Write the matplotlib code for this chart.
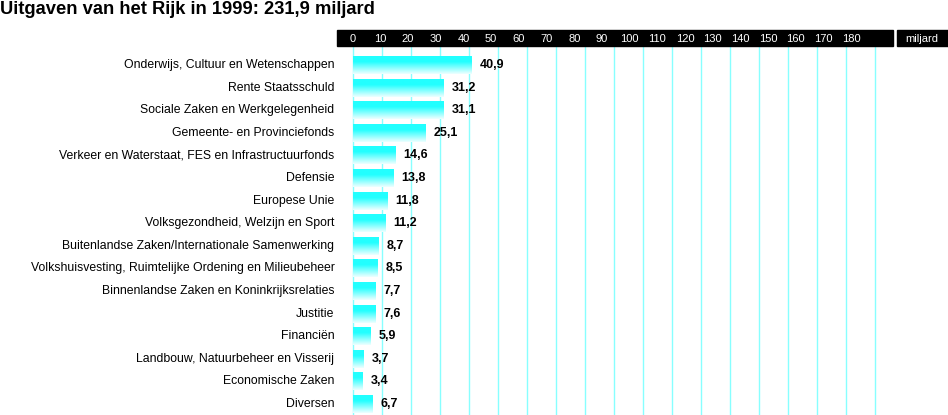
import matplotlib.pyplot as plt
import numpy as np
from matplotlib.colors import LinearSegmentedColormap
from matplotlib.patches import Rectangle

plt.rcParams['font.family'] = ['Liberation Sans', 'DejaVu Sans']

# Rijksbegroting 1999, bedragen in miljard gulden
posten = ["Onderwijs, Cultuur en Wetenschappen", "Rente Staatsschuld",
          "Sociale Zaken en Werkgelegenheid", "Gemeente- en Provinciefonds",
          "Verkeer en Waterstaat, FES en Infrastructuurfonds", "Defensie",
          "Europese Unie", "Volksgezondheid, Welzijn en Sport",
          "Buitenlandse Zaken/Internationale Samenwerking",
          "Volkshuisvesting, Ruimtelijke Ordening en Milieubeheer",
          "Binnenlandse Zaken en Koninkrijksrelaties", "Justitie", "Financiën",
          "Landbouw, Natuurbeheer en Visserij", "Economische Zaken", "Diversen"]
bedragen = [40.9, 31.2, 31.1, 25.1, 14.6, 13.8, 11.8, 11.2,
            8.7, 8.5, 7.7, 7.6, 5.9, 3.7, 3.4, 6.7]
ticks = list(range(0, 190, 10))

W, H = 948, 415
fig = plt.figure(figsize=(W / 100, H / 100), dpi=100)

# axes in pixel coords: 337..893 horizontally, 47..415 vertically
ax = fig.add_axes([337 / W, 0, (893 - 337) / W, (415 - 47) / H])
ax.set_xlim(-5.4, 186.3)
n = len(posten)
ax.set_ylim(n - 1 + 0.487, -0.796)
ax.axis('off')

for t in ticks:
    ax.axvline(t, color='#88ffff', lw=1, zorder=0)

cmap = LinearSegmentedColormap.from_list('cy', [(0, '#22ffff'), (0.35, '#22ffff'), (1, '#eeffff')])
grad = np.linspace(0, 1, 64).reshape(-1, 1)
y = np.arange(n)
bars = ax.barh(y, bedragen, height=0.8, color='none', zorder=2)
for b, v in zip(bars, bedragen):
    x0, y0, w, h = b.get_x(), b.get_y(), b.get_width(), b.get_height()
    im = ax.imshow(grad, extent=[x0, x0 + w, y0 + h, y0], aspect='auto',
                   cmap=cmap, zorder=2, interpolation='bilinear')
    im.set_clip_path(b)
    ax.text(v + 2.9, b.get_y() + h / 2, f"{v:.1f}".replace('.', ','),
            ha='left', va='center', fontsize=9, fontweight='bold')

for yi, p in zip(y, posten):
    ax.text(-6.3, yi, p, ha='right', va='center', fontsize=8.8, clip_on=False)

# header strip with tick labels
fig.patches.append(Rectangle((337 / W, 1 - 46 / H), (893 - 337) / W, 16 / H,
                             transform=fig.transFigure, color='black'))
fig.patches.append(Rectangle((897 / W, 1 - 46 / H), 51 / W, 16 / H,
                             transform=fig.transFigure, color='black'))
for t in ticks:
    xp = ax.transData.transform((t * 0.955, 0))[0]
    fig.text(xp / W, 1 - 38.5 / H, str(t), color='white', fontsize=8,
             ha='center', va='center')
fig.text(922 / W, 1 - 38.5 / H, "miljard", color='white', fontsize=8,
         ha='center', va='center')

fig.text(0.0, 1 - 10 / H, "Uitgaven van het Rijk in 1999: 231,9 miljard",
         fontsize=13.2, fontweight='bold', ha='left', va='center')

fig.savefig('out.png', dpi=100)
